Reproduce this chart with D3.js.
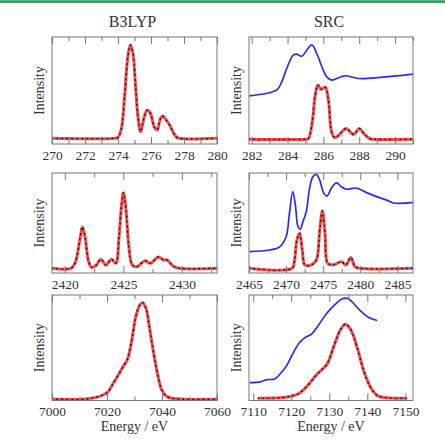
<!DOCTYPE html>
<html>
<head>
<meta charset="utf-8">
<script src="https://cdn.jsdelivr.net/npm/d3@7"></script>
<style>
  body { margin: 0; background: #fff; }
  svg { display: block; }
  text { font-family: "Liberation Serif", "DejaVu Serif", serif; fill: #333; }
</style>
</head>
<body>
<div id="vis"></div>
<script>
// carbon K-edge, B3LYP (calc only)
const cB3lypX = [270, 273.8, 274.0, 274.2, 274.4, 274.6, 274.75, 274.9, 275.05, 275.2, 275.37, 275.55, 275.75, 275.9, 276.05, 276.2, 276.38, 276.55, 276.7, 276.9, 277.1, 277.3, 277.5, 277.7, 280];
const cB3lypY = [0, 0, 0.01, 0.1, 0.45, 0.88, 1.0, 0.92, 0.6, 0.25, 0.07, 0.2, 0.3, 0.29, 0.22, 0.12, 0.09, 0.2, 0.24, 0.2, 0.15, 0.08, 0.02, 0, 0];

// carbon K-edge, SRC: experiment (blue) + calc (red)
const cExpX = [281.87, 283.4, 283.68, 283.96, 284.32, 284.51, 284.79, 285.35, 285.63, 285.91, 286.19, 286.47, 286.75, 287.21, 287.96, 289.17, 291];
const cExpY = [0.80, 0.91, 1.06, 1.31, 1.55, 1.57, 1.53, 1.74, 1.58, 1.34, 1.15, 1.09, 1.12, 1.17, 1.12, 1.14, 1.2];
const cSrcX = [281.85, 285.0, 285.16, 285.37, 285.54, 285.69, 285.87, 286.1, 286.28, 286.47, 286.65, 286.93, 287.27, 287.68, 288.01, 288.27, 288.6, 288.8, 291];
const cSrcY = [0, 0, 0.01, 0.3, 0.8, 1.0, 0.92, 0.96, 0.72, 0.12, 0.03, 0.1, 0.2, 0.09, 0.2, 0.1, 0.01, 0, 0];

// sulfur K-edge
const sB3lypX = [2418.9, 2420.5, 2420.86, 2421.3, 2421.5, 2421.74, 2422.0, 2422.28, 2422.7, 2423.08, 2423.5, 2423.98, 2424.35, 2424.63, 2424.83, 2425.0, 2425.2, 2425.47, 2425.76, 2426.16, 2426.53, 2426.88, 2427.3, 2427.99, 2428.44, 2428.73, 2429.24, 2429.8, 2433];
const sB3lypY = [0, 0, 0.066, 0.397, 0.55, 0.397, 0.11, 0.013, 0.044, 0.12, 0.044, 0.12, 0.066, 0.42, 0.81, 1.0, 0.81, 0.286, 0.044, 0.021, 0.066, 0.10, 0.066, 0.15, 0.11, 0.11, 0.03, 0, 0];
const sExpX = [2465.04, 2467.75, 2469.1, 2470.0, 2470.45, 2470.9, 2471.27, 2471.59, 2471.9, 2472.26, 2472.72, 2473.17, 2473.62, 2474.08, 2474.53, 2475.07, 2475.52, 2476.11, 2476.79, 2477.47, 2478.14, 2479.5, 2480.85, 2482.2, 2483.56, 2484.46, 2487.17];
const sExpY = [0.29, 0.32, 0.37, 0.55, 0.96, 1.34, 1.08, 0.73, 0.68, 0.81, 0.99, 1.40, 1.60, 1.64, 1.54, 1.31, 1.26, 1.40, 1.49, 1.42, 1.38, 1.40, 1.32, 1.25, 1.19, 1.14, 1.15];
const sSrcX = [2465, 2470.8, 2471.14, 2471.45, 2471.82, 2472.18, 2472.53, 2473.4, 2474.08, 2474.53, 2474.89, 2475.24, 2475.61, 2476.33, 2477.47, 2478.05, 2478.73, 2479.27, 2479.95, 2487.1];
const sSrcY = [0, 0, 0.145, 0.49, 0.61, 0.32, 0.058, 0.058, 0.145, 0.67, 1.0, 0.61, 0.087, 0.058, 0.115, 0.058, 0.19, 0.03, 0, 0];

// iron K-edge
const feB3lypX = [7000, 7012, 7016.3, 7018.7, 7020.5, 7022.3, 7024.1, 7025.7, 7027.4, 7029.0, 7030.5, 7032.0, 7033.0, 7034.2, 7035.4, 7036.6, 7038.1, 7039.9, 7041.7, 7045.3, 7060];
const feB3lypY = [0, 0, 0.021, 0.045, 0.079, 0.166, 0.25, 0.33, 0.41, 0.61, 0.86, 0.98, 1.0, 0.94, 0.75, 0.54, 0.30, 0.096, 0.027, 0.003, 0];
const feExpX = [7109.1, 7111.8, 7113.6, 7115.7, 7117.1, 7118.8, 7120.6, 7122.3, 7123.7, 7125.4, 7127.2, 7129.4, 7131.6, 7133.3, 7134.7, 7136.0, 7138.2, 7140.4, 7142.6];
const feExpY = [0.21, 0.22, 0.25, 0.26, 0.33, 0.44, 0.62, 0.76, 0.82, 0.87, 0.99, 1.15, 1.27, 1.34, 1.35, 1.30, 1.18, 1.09, 1.05];
const feSrcX = [7111.3, 7117.1, 7119.7, 7121.9, 7124.1, 7126.7, 7129.4, 7131.1, 7132.9, 7134.2, 7135.5, 7137.3, 7139.0, 7140.8, 7142.6, 7145.2, 7150.5];
const feSrcY = [0, 0.005, 0.024, 0.06, 0.16, 0.32, 0.46, 0.69, 0.92, 1.0, 0.94, 0.69, 0.38, 0.15, 0.036, 0.005, 0];

// tick values (major ones get labels)
const cB3lypTicks = [270, 272, 274, 276, 278, 280];
const cSrcTicks = [282, 284, 286, 288, 290];
const sB3lypTicks = [2420, 2425, 2430];
const sSrcTicks = [2465, 2470, 2475, 2480, 2485];
const feB3lypTicks = [7000, 7020, 7040, 7060];
const feSrcTicks = [7110, 7120, 7130, 7140, 7150];

const titles = ["B3LYP", "SRC"];

var width = 445, height = 440;
var cols = [[52, 217], [249, 413]];
var rows = [[37, 144], [173, 273], [295, 400.5]];

var zip = (xs, ys) => xs.map((x, i) => ({x: x, y: ys[i]}));

var panels = [
  {col: 0, row: 0, xd: [270, 280], yd: [-0.061, 1.086], major: cB3lypTicks, minorStep: 1, calc: zip(cB3lypX, cB3lypY)},
  {col: 1, row: 0, xd: [281.85, 291], yd: [-0.087, 1.884], major: cSrcTicks, minorStep: 1, calc: zip(cSrcX, cSrcY), exp: zip(cExpX, cExpY)},
  {col: 0, row: 1, xd: [2418.9, 2433], yd: [-0.062, 1.261], major: sB3lypTicks, minorStep: 2.5, calc: zip(sB3lypX, sB3lypY)},
  {col: 1, row: 1, xd: [2465, 2487.1], yd: [-0.082, 1.663], major: sSrcTicks, minorStep: 2.5, calc: zip(sSrcX, sSrcY), exp: zip(sExpX, sExpY)},
  {col: 0, row: 2, xd: [7000, 7060], yd: [-0.0145, 1.08], major: feB3lypTicks, minorStep: 10, calc: zip(feB3lypX, feB3lypY)},
  {col: 1, row: 2, xd: [7108.9, 7152], yd: [-0.031, 1.394], major: feSrcTicks, minorStep: 5, calc: zip(feSrcX, feSrcY), exp: zip(feExpX, feExpY)}
];

var svg = d3.select("#vis").append("svg")
    .attr("width", width)
    .attr("height", height);

// green rule at the very top
svg.append("rect").attr("x", 0).attr("y", 0).attr("width", width).attr("height", 3).attr("fill", "#62b884");
svg.append("rect").attr("x", 0).attr("y", 1.2).attr("width", width).attr("height", 1.1).attr("fill", "#2f7d52");

titles.forEach((t, i) => {
    svg.append("text")
        .attr("x", (cols[i][0] + cols[i][1]) / 2 - 2)
        .attr("y", 27)
        .attr("text-anchor", "middle")
        .style("font-size", "16px")
        .text(t);
});

panels.forEach((p, k) => {
    var x0 = cols[p.col][0], x1 = cols[p.col][1];
    var y0 = rows[p.row][0], y1 = rows[p.row][1];
    var x = d3.scaleLinear().domain(p.xd).range([x0, x1]);
    var y = d3.scaleLinear().domain(p.yd).range([y1, y0]);

    // minor ticks between the labelled ones
    var minors = [];
    for (var v = Math.ceil(p.xd[0] / p.minorStep) * p.minorStep; v <= p.xd[1] + 1e-9; v += p.minorStep) {
        if (!p.major.some(m => Math.abs(m - v) < 1e-6)) minors.push(v);
    }

    var g = svg.append("g");

    g.append("clipPath").attr("id", "clip" + k)
        .append("rect").attr("x", x0).attr("y", y0).attr("width", x1 - x0).attr("height", y1 - y0);

    var plot = g.append("g").attr("clip-path", "url(#clip" + k + ")");
    var line = d3.line().x(d => x(d.x)).y(d => y(d.y)).curve(d3.curveCatmullRom.alpha(0.5));

    if (p.exp) {
        plot.append("path").datum(p.exp)
            .attr("d", line)
            .attr("fill", "none")
            .attr("stroke", "#2b2bf0")
            .attr("stroke-width", 1.7);
    }
    plot.append("path").datum(p.calc)
        .attr("d", line)
        .attr("fill", "none")
        .attr("stroke", "#ff4747")
        .attr("stroke-width", 3);
    plot.append("path").datum(p.calc)
        .attr("d", line)
        .attr("fill", "none")
        .attr("stroke", "#1a1a1a")
        .attr("stroke-width", 1.5)
        .attr("stroke-linecap", "round")
        .attr("stroke-dasharray", "0.6,4.4");

    // ticks pointing inward, top and bottom
    var bot = g.append("g").attr("transform", "translate(0," + y1 + ")")
        .call(d3.axisBottom(x).tickValues(p.major).tickSize(-7).tickPadding(6).tickFormat(d3.format("d")));
    var botMinor = g.append("g").attr("transform", "translate(0," + y1 + ")")
        .call(d3.axisBottom(x).tickValues(minors).tickSize(-4).tickFormat(""));
    var top = g.append("g").attr("transform", "translate(0," + y0 + ")")
        .call(d3.axisTop(x).tickValues(p.major).tickSize(-7).tickFormat(""));
    var topMinor = g.append("g").attr("transform", "translate(0," + y0 + ")")
        .call(d3.axisTop(x).tickValues(minors).tickSize(-4).tickFormat(""));

    [bot, botMinor, top, topMinor].forEach(a => {
        a.select(".domain").remove();
        a.selectAll("line").attr("stroke", "#777");
        a.selectAll("text").attr("fill", "#333")
            .style("font-family", "'Liberation Serif', serif")
            .style("font-size", "13.5px");
    });

    g.append("rect")
        .attr("x", x0).attr("y", y0)
        .attr("width", x1 - x0).attr("height", y1 - y0)
        .attr("fill", "none")
        .attr("stroke", "#777")
        .attr("stroke-width", 1);

    g.append("text")
        .attr("transform", "translate(" + (x0 - 8) + "," + ((y0 + y1) / 2) + ") rotate(-90)")
        .attr("text-anchor", "middle")
        .style("font-size", "14px")
        .text("Intensity");

    if (p.row == 2) {
        g.append("text")
            .attr("x", (x0 + x1) / 2)
            .attr("y", 431)
            .attr("text-anchor", "middle")
            .style("font-size", "14px")
            .text("Energy / eV");
    }
});
</script>
</body>
</html>
